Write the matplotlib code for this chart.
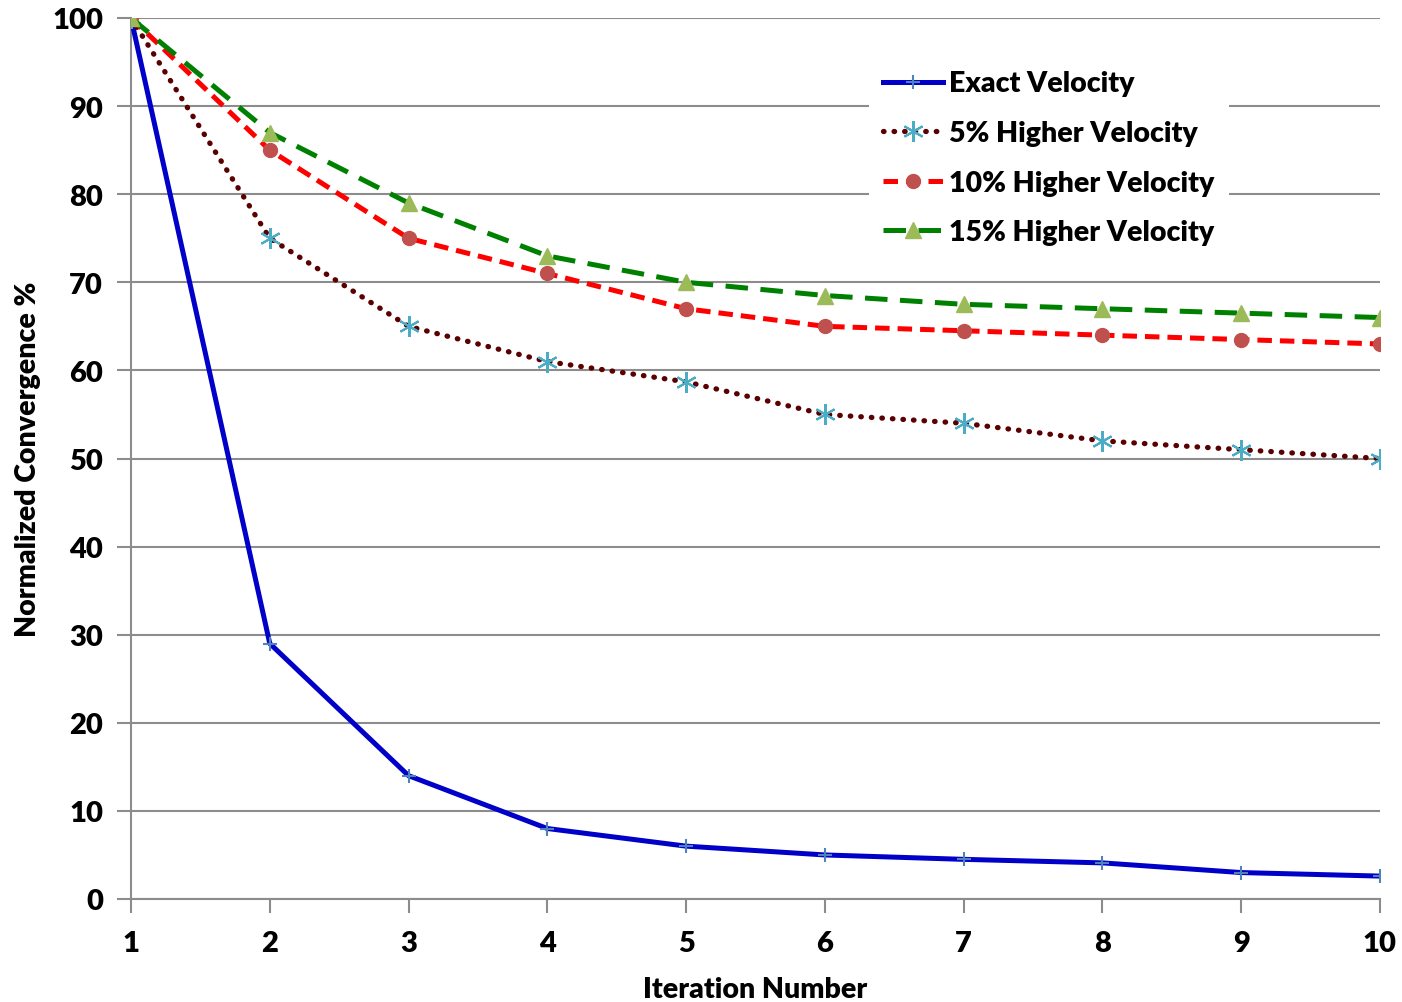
import matplotlib
matplotlib.use("Agg")
import matplotlib.pyplot as plt

iterations = [1, 2, 3, 4, 5, 6, 7, 8, 9, 10]
exact = [100, 29, 14, 8, 6, 5, 4.5, 4.1, 3, 2.6]
higher5 = [100, 75, 65, 61, 58.7, 55, 54, 52, 51, 50]
higher10 = [100, 85, 75, 71, 67, 65, 64.5, 64, 63.5, 63]
higher15 = [100, 87, 79, 73, 70, 68.5, 67.5, 67, 66.5, 66]
series_names = ["Exact Velocity", "5% Higher Velocity", "10% Higher Velocity", "15% Higher Velocity"]
y_ticks = [0, 10, 20, 30, 40, 50, 60, 70, 80, 90, 100]

plt.rcParams['font.family'] = ['Lato', 'DejaVu Sans']
W = 'heavy'

fig = plt.figure(figsize=(14.02, 10.03), dpi=100)
ax = fig.add_axes([131/1402, 1-900/1003, (1380-131)/1402, (900-19)/1003])

grid_c = '#8c8c8c'
ax.plot(iterations, exact, color='#0000c8', lw=3.6, marker='+', ms=10, mec='#4f81bd', mew=1.5,
        label=series_names[0], zorder=3)
ax.plot(iterations, higher5, color='#5a0000', lw=3.8, ls=(0, (0.1, 1.9)), dash_capstyle='round',
        marker=(6, 2, 0), ms=15, mec='#4bacc6', mew=1.5, label=series_names[1], zorder=3)
ax.plot(iterations, higher10, color='#ff0000', lw=3.6, ls=(0, (2.9, 1.6)), marker='o', ms=10,
        mfc='#c0504d', mec='#c0504d', label=series_names[2], zorder=3)
ax.plot(iterations, higher15, color='#008000', lw=3.6, ls=(0, (4.5, 2.5)), marker='^', ms=11,
        mfc='#9bbb59', mec='#9bbb59', label=series_names[3], zorder=3)

ax.set_xlim(1, 10)
ax.set_ylim(0, 100)
ax.set_xticks(iterations)
ax.set_yticks(y_ticks)
ax.yaxis.grid(True, color=grid_c, lw=1.5)
ax.set_axisbelow(True)
for s in ['top', 'right']:
    ax.spines[s].set_visible(False)
for s in ['left', 'bottom']:
    ax.spines[s].set_color(grid_c)
    ax.spines[s].set_linewidth(1.5)
ax.tick_params(axis='both', colors=grid_c, width=1.5, length=10, labelsize=21, labelcolor='black')
ax.tick_params(axis='x', pad=12)
ax.tick_params(axis='y', pad=10)
for lbl in ax.get_xticklabels() + ax.get_yticklabels():
    lbl.set_fontweight(W)

ax.set_xlabel("Iteration Number", fontsize=20.5, fontweight=W, labelpad=15)
ax.set_ylabel("Normalized Convergence %", fontsize=20.5, fontweight=W, labelpad=8)

leg = ax.legend(loc='upper left', bbox_to_anchor=((855-131)/1249, (900-43)/881), frameon=True,
                fancybox=False, edgecolor='none', facecolor='white', framealpha=1,
                prop={'size': 20.5, 'weight': W}, handlelength=2.1, handletextpad=0.2,
                labelspacing=0.83, borderpad=0.5)

fig.savefig("out.png", dpi=100)
